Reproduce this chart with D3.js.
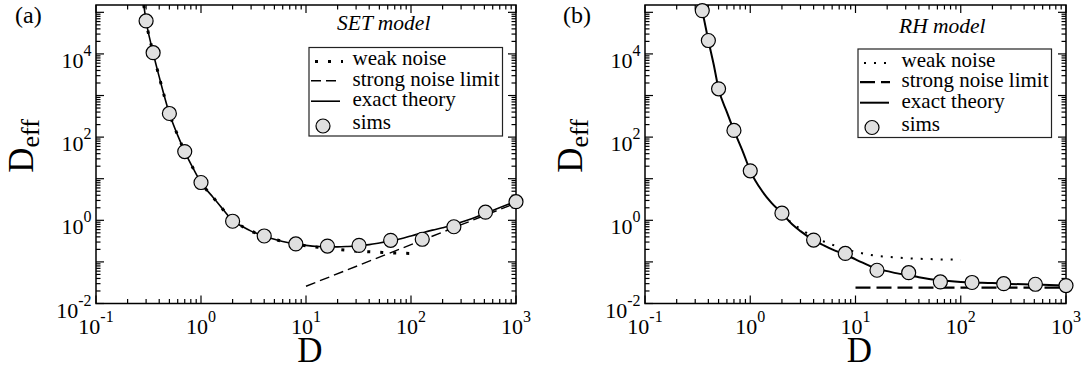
<!DOCTYPE html>
<html>
<head>
<meta charset="utf-8">
<script src="https://cdn.jsdelivr.net/npm/d3@7"></script>
<style>
  body { margin: 0; background: #fff; }
  svg { display: block; font-family: "Liberation Serif", "Times New Roman", serif; }
</style>
</head>
<body>
<svg id="chart" width="1082" height="369"></svg>
<script>
// ---- data ----
// (a) SET model
var setSimsD = [0.3, 0.35, 0.5, 0.7, 1, 2, 4, 8, 16, 32, 64, 128, 256, 512, 1000];
var setSimsY = [6.2e4, 1.07e4, 370, 45, 8.1, 0.95, 0.42, 0.27, 0.24, 0.25, 0.33, 0.35, 0.70, 1.57, 2.8];
var setTheoryD = [0.285, 0.3, 0.35, 0.4, 0.5, 0.6, 0.7, 0.85, 1, 1.3, 1.6, 2, 2.5, 3, 4, 5, 6, 8, 10, 13, 16, 20, 25, 32, 40, 50, 64, 80, 100, 128, 160, 200, 256, 320, 400, 512, 640, 800, 1000];
var setTheoryY = [1.5e5, 6.2e4, 1.07e4, 2800, 370, 110, 45, 17, 8.1, 3.6, 1.9, 0.98, 0.7, 0.55, 0.42, 0.35, 0.31, 0.27, 0.25, 0.235, 0.23, 0.23, 0.235, 0.245, 0.26, 0.285, 0.32, 0.36, 0.42, 0.5, 0.58, 0.66, 0.78, 0.95, 1.15, 1.5, 1.85, 2.3, 2.85];
var setWeakD = [0.285, 0.3, 0.35, 0.4, 0.5, 0.6, 0.7, 0.85, 1, 1.3, 1.6, 2, 2.5, 3, 4, 5, 6, 8, 10, 13, 16, 20, 25, 32, 40, 50, 64, 80, 100];
var setWeakY = [1.5e5, 6.2e4, 1.07e4, 2800, 370, 110, 45, 17, 8.1, 3.6, 1.9, 0.98, 0.7, 0.55, 0.42, 0.35, 0.31, 0.27, 0.245, 0.225, 0.215, 0.2, 0.19, 0.18, 0.175, 0.17, 0.165, 0.162, 0.16];
var setStrongD = [10, 1000];
var setStrongY = [0.026, 2.6];

// (b) RH model
var rhSimsD = [0.35, 0.4, 0.5, 0.7, 1, 2, 4, 8, 16, 32, 64, 128, 256, 512, 1000];
var rhSimsY = [1.1e5, 2.1e4, 1450, 145, 15.5, 1.48, 0.335, 0.16, 0.063, 0.055, 0.033, 0.032, 0.030, 0.029, 0.027];
var rhTheoryD = [0.34, 0.35, 0.4, 0.45, 0.5, 0.6, 0.7, 0.85, 1, 1.3, 1.6, 2, 2.5, 3, 4, 5, 6, 8, 10, 13, 16, 20, 25, 32, 40, 50, 64, 100, 128, 200, 256, 512, 1000];
var rhTheoryY = [1.6e5, 1.1e5, 2.1e4, 5500, 1450, 400, 145, 45, 15.5, 5, 2.6, 1.48, 0.8, 0.55, 0.335, 0.25, 0.2, 0.15, 0.115, 0.085, 0.068, 0.06, 0.053, 0.048, 0.043, 0.039, 0.036, 0.033, 0.032, 0.031, 0.030, 0.0285, 0.027];
var rhWeakD = [2, 2.5, 3, 4, 5, 6, 8, 10, 13, 16, 20, 25, 32, 40, 50, 64, 80, 100];
var rhWeakY = [1.48, 0.85, 0.62, 0.40, 0.31, 0.26, 0.2, 0.175, 0.152, 0.14, 0.133, 0.127, 0.122, 0.119, 0.117, 0.115, 0.114, 0.113];
var rhStrongD = [10, 1000];
var rhStrongY = [0.024, 0.024];

var xDomain = [0.1, 1000];
var yDomain = [0.01, 1.5e5];
var xLabelTicks = [0.1, 1, 10, 100, 1000];
var yLabelTicks = [0.01, 1, 100, 1e4];
var legendLabels = ["weak noise", "strong noise limit", "exact theory", "sims"];

var svg = d3.select("#chart");
var markerFill = "#e0e0e0";

var panels = [
  {
    id: "a", tag: "(a)", model: "SET model",
    left: 96, right: 516, top: 5, bottom: 303.5,
    tagX: 15, ylabX: 33, modelX: 337, modelY: 30,
    legX: 309, legY: 47.5,
    theory: d3.zip(setTheoryD, setTheoryY),
    weak: d3.zip(setWeakD, setWeakY),
    strong: d3.zip(setStrongD, setStrongY),
    sims: d3.zip(setSimsD, setSimsY),
    solidW: 1.6, dotW: 3, dotDash: "3,10", dashW: 1.4, dash: "10,5"
  },
  {
    id: "b", tag: "(b)", model: "RH model",
    left: 645, right: 1066, top: 5, bottom: 303.5,
    tagX: 563, ylabX: 582, modelX: 899, modelY: 33,
    legX: 858, legY: 49,
    theory: d3.zip(rhTheoryD, rhTheoryY),
    weak: d3.zip(rhWeakD, rhWeakY),
    strong: d3.zip(rhStrongD, rhStrongY),
    sims: d3.zip(rhSimsD, rhSimsY),
    solidW: 2, dotW: 2, dotDash: "2,8", dashW: 2.2, dash: "15,6"
  }
];

function powerLabel(text, v) {
  var e = Math.round(Math.log10(v));
  text.append("tspan").text("10");
  text.append("tspan").attr("dy", -12).attr("font-size", 16).text(String(e));
}

function drawPanel(p) {
  var x = d3.scaleLog().domain(xDomain).range([p.left, p.right]);
  var y = d3.scaleLog().domain(yDomain).range([p.bottom, p.top]);
  var g = svg.append("g");

  g.append("clipPath").attr("id", "clip-" + p.id)
    .append("rect")
    .attr("x", p.left).attr("y", p.top)
    .attr("width", p.right - p.left).attr("height", p.bottom - p.top);

  // ticks on all four sides, pointing inward
  var isMajor = function(v) {
    var l = Math.log10(v);
    return Math.abs(l - Math.round(l)) < 1e-6;
  };
  var ticks = g.append("g").attr("stroke", "#000").attr("stroke-width", 1.2);
  x.ticks().forEach(function(v) {
    var len = isMajor(v) ? 8 : 4.5;
    var xx = x(v);
    ticks.append("line").attr("x1", xx).attr("x2", xx).attr("y1", p.bottom).attr("y2", p.bottom - len);
    ticks.append("line").attr("x1", xx).attr("x2", xx).attr("y1", p.top).attr("y2", p.top + len);
  });
  y.ticks().forEach(function(v) {
    var len = isMajor(v) ? 8 : 4.5;
    var yy = y(v);
    ticks.append("line").attr("x1", p.left).attr("x2", p.left + len).attr("y1", yy).attr("y2", yy);
    ticks.append("line").attr("x1", p.right).attr("x2", p.right - len).attr("y1", yy).attr("y2", yy);
  });

  // tick labels
  xLabelTicks.forEach(function(v) {
    var t = g.append("text")
      .attr("x", x(v)).attr("y", 333.5)
      .attr("text-anchor", "middle")
      .attr("font-size", 22);
    powerLabel(t, v);
  });
  yLabelTicks.forEach(function(v) {
    var t = g.append("text")
      .attr("x", p.left - 4.5).attr("y", y(v) + 14)
      .attr("text-anchor", "end")
      .attr("font-size", 22);
    powerLabel(t, v);
  });

  // axis titles
  g.append("text")
    .attr("x", (p.left + p.right) / 2 + 4).attr("y", 362)
    .attr("text-anchor", "middle")
    .attr("font-size", 35)
    .text("D");
  var yl = g.append("text")
    .attr("transform", "translate(" + p.ylabX + ",146) rotate(-90)")
    .attr("text-anchor", "middle")
    .attr("font-size", 35);
  yl.append("tspan").text("D");
  yl.append("tspan").attr("dy", 6).attr("font-size", 26).text("eff");

  g.append("text")
    .attr("x", p.tagX).attr("y", 23)
    .attr("font-size", 24)
    .text(p.tag);
  g.append("text")
    .attr("x", p.modelX).attr("y", p.modelY)
    .attr("font-size", 21.5)
    .attr("font-style", "italic")
    .text(p.model);

  // curves
  var line = d3.line()
    .x(function(d) { return x(d[0]); })
    .y(function(d) { return y(d[1]); })
    .curve(d3.curveMonotoneX);
  var curves = g.append("g").attr("clip-path", "url(#clip-" + p.id + ")").attr("fill", "none").attr("stroke", "#000");
  curves.append("path").attr("d", line(p.weak))
    .attr("stroke-width", p.dotW).attr("stroke-dasharray", p.dotDash);
  curves.append("path").attr("d", line(p.strong))
    .attr("stroke-width", p.dashW).attr("stroke-dasharray", p.dash);
  curves.append("path").attr("d", line(p.theory))
    .attr("stroke-width", p.solidW);

  // frame
  g.append("rect")
    .attr("x", p.left).attr("y", p.top)
    .attr("width", p.right - p.left).attr("height", p.bottom - p.top)
    .attr("fill", "none").attr("stroke", "#000").attr("stroke-width", 1.5);

  // simulation markers
  g.append("g").selectAll("circle")
    .data(p.sims)
    .join("circle")
    .attr("cx", function(d) { return x(d[0]); })
    .attr("cy", function(d) { return y(d[1]); })
    .attr("r", 7)
    .attr("fill", markerFill)
    .attr("stroke", "#000")
    .attr("stroke-width", 1.2);

  // legend
  var lg = g.append("g").attr("transform", "translate(" + p.legX + "," + p.legY + ")");
  lg.append("rect")
    .attr("width", 193.5).attr("height", 88.5)
    .attr("fill", "#fff").attr("stroke", "#222").attr("stroke-width", 1.2);
  var rowY = [17.5, 38, 58.7, 81.7];
  lg.selectAll("text.leg")
    .data(legendLabels)
    .join("text")
    .attr("class", "leg")
    .attr("x", 43.5)
    .attr("y", function(d, i) { return rowY[i]; })
    .attr("font-size", 21)
    .text(function(d) { return d; });
  lg.append("line").attr("x1", 6).attr("x2", 34).attr("y1", 14).attr("y2", 14)
    .attr("stroke", "#000").attr("stroke-width", p.dotW).attr("stroke-dasharray", p.dotDash);
  lg.append("line").attr("x1", 2).attr("x2", 32).attr("y1", 33.2).attr("y2", 33.2)
    .attr("stroke", "#000").attr("stroke-width", p.dashW).attr("stroke-dasharray", p.dash);
  lg.append("line").attr("x1", 2).attr("x2", 31).attr("y1", 53.7).attr("y2", 53.7)
    .attr("stroke", "#000").attr("stroke-width", p.solidW);
  lg.append("circle").attr("cx", 14).attr("cy", 78.5).attr("r", 7)
    .attr("fill", markerFill).attr("stroke", "#000").attr("stroke-width", 1.2);
}

panels.forEach(drawPanel);
</script>
</body>
</html>
